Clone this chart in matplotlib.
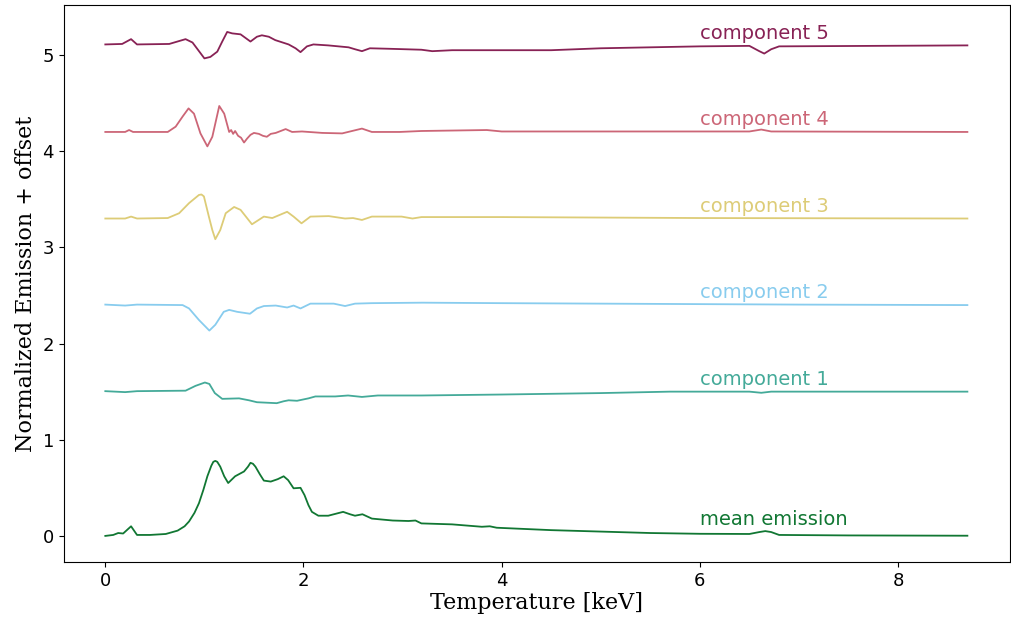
import matplotlib
matplotlib.use("Agg")
import matplotlib.pyplot as plt

# mean emission spectrum (no offset)
mean_x = [0.0, 0.08, 0.13, 0.18, 0.26, 0.32, 0.45, 0.61, 0.73, 0.80, 0.845, 0.90, 0.945,
          0.99, 1.03, 1.07, 1.09, 1.11, 1.13, 1.16, 1.20, 1.24, 1.31, 1.40, 1.44, 1.465,
          1.49, 1.515, 1.56, 1.60, 1.67, 1.74, 1.80, 1.845, 1.90, 1.97, 2.01, 2.05, 2.085,
          2.15, 2.25, 2.40, 2.47, 2.52, 2.595, 2.69, 2.9, 3.06, 3.13, 3.19, 3.5, 3.8,
          3.88, 3.95, 4.5, 5.0, 5.5, 6.0, 6.5, 6.6, 6.66, 6.72, 6.8, 7.5, 8.7]
mean_y = [0.0, 0.01, 0.03, 0.025, 0.10, 0.01, 0.01, 0.02, 0.055, 0.10, 0.15, 0.24, 0.34,
          0.48, 0.62, 0.73, 0.77, 0.78, 0.77, 0.72, 0.62, 0.55, 0.62, 0.67, 0.72, 0.76,
          0.75, 0.72, 0.64, 0.575, 0.565, 0.59, 0.62, 0.58, 0.495, 0.50, 0.425, 0.32, 0.25,
          0.21, 0.21, 0.25, 0.225, 0.21, 0.225, 0.18, 0.16, 0.155, 0.16, 0.13, 0.12, 0.095,
          0.10, 0.085, 0.06, 0.045, 0.03, 0.022, 0.02, 0.04, 0.05, 0.04, 0.01, 0.005, 0.002]

# components (values relative to their offset)
c1_x = [0.0, 0.2, 0.26, 0.32, 0.81, 0.91, 1.005, 1.05, 1.105, 1.18, 1.35, 1.45, 1.53,
        1.73, 1.80, 1.85, 1.935, 2.05, 2.12, 2.32, 2.45, 2.59, 2.75, 3.19, 4.0, 5.0,
        5.7, 6.5, 6.62, 6.72, 8.7]
c1_y = [0.005, -0.005, 0.0, 0.005, 0.01, 0.06, 0.095, 0.08, -0.015, -0.075, -0.07, -0.09,
        -0.11, -0.12, -0.10, -0.09, -0.095, -0.07, -0.05, -0.05, -0.04, -0.055, -0.04,
        -0.04, -0.03, -0.015, 0.0, 0.0, -0.012, 0.0, 0.0]

c2_x = [0.0, 0.2, 0.26, 0.32, 0.78, 0.845, 0.945, 1.05, 1.11, 1.195, 1.25, 1.33, 1.46,
        1.53, 1.60, 1.72, 1.835, 1.90, 1.97, 2.07, 2.305, 2.42, 2.52, 2.69, 3.2, 4.0,
        5.0, 6.0, 7.0, 8.7]
c2_y = [0.005, -0.005, 0.0, 0.005, 0.0, -0.035, -0.155, -0.265, -0.205, -0.07, -0.05,
        -0.07, -0.09, -0.035, -0.01, -0.005, -0.025, -0.005, -0.035, 0.015, 0.015, -0.01,
        0.015, 0.02, 0.025, 0.02, 0.015, 0.01, 0.005, 0.0]

c3_x = [0.0, 0.2, 0.26, 0.32, 0.63, 0.745, 0.845, 0.945, 0.97, 0.995, 1.045, 1.08, 1.11,
        1.16, 1.215, 1.30, 1.365, 1.48, 1.60, 1.685, 1.835, 1.90, 1.98, 2.07, 2.255,
        2.42, 2.5, 2.59, 2.69, 2.99, 3.1, 3.19, 4.0, 6.0, 8.7]
c3_y = [0.0, 0.0, 0.02, 0.0, 0.005, 0.055, 0.16, 0.245, 0.25, 0.23, 0.02, -0.12, -0.215,
        -0.12, 0.055, 0.12, 0.09, -0.06, 0.02, 0.005, 0.07, 0.02, -0.05, 0.02, 0.025,
        0.0, 0.005, -0.015, 0.02, 0.02, 0.0, 0.015, 0.015, 0.005, 0.0]

c4_x = [0.0, 0.2, 0.24, 0.28, 0.63, 0.71, 0.78, 0.84, 0.895, 0.96, 1.03, 1.08, 1.15,
        1.20, 1.25, 1.27, 1.29, 1.31, 1.34, 1.37, 1.40, 1.43, 1.465, 1.50, 1.55, 1.59,
        1.63, 1.67, 1.72, 1.82, 1.885, 1.985, 2.19, 2.39, 2.59, 2.69, 2.97, 3.19, 3.85,
        4.0, 6.5, 6.62, 6.72, 8.7]
c4_y = [0.0, 0.0, 0.02, 0.0, 0.0, 0.055, 0.16, 0.245, 0.19, -0.015, -0.15, -0.05, 0.27,
        0.19, 0.0, 0.02, -0.02, 0.01, -0.04, -0.06, -0.11, -0.07, -0.03, -0.01, -0.02,
        -0.04, -0.05, -0.02, -0.01, 0.03, 0.0, 0.005, -0.01, -0.015, 0.035, 0.0, 0.0,
        0.01, 0.02, 0.005, 0.005, 0.025, 0.005, 0.0]

c5_x = [0.0, 0.17, 0.26, 0.32, 0.645, 0.81, 0.88, 1.00, 1.06, 1.13, 1.18, 1.23, 1.28,
        1.365, 1.465, 1.53, 1.58, 1.65, 1.715, 1.85, 1.92, 1.97, 2.035, 2.10, 2.25,
        2.455, 2.52, 2.59, 2.67, 2.86, 3.19, 3.3, 3.5, 3.85, 4.5, 5.0, 6.0, 6.5, 6.6,
        6.65, 6.72, 6.8, 8.7]
c5_y = [0.01, 0.015, 0.065, 0.01, 0.015, 0.065, 0.03, -0.135, -0.12, -0.065, 0.04, 0.14,
        0.125, 0.115, 0.04, 0.09, 0.105, 0.09, 0.055, 0.01, -0.03, -0.07, -0.01, 0.01,
        0.0, -0.02, -0.04, -0.06, -0.03, -0.035, -0.045, -0.06, -0.05, -0.05, -0.05,
        -0.03, -0.01, -0.005, -0.06, -0.085, -0.04, -0.01, 0.0]

labels = ['mean emission', 'component 1', 'component 2', 'component 3', 'component 4', 'component 5']
offsets = [0.0, 1.5, 2.4, 3.3, 4.2, 5.1]
colors = ['#117733', '#44AA99', '#88CCEE', '#DDCC77', '#CC6677', '#882255']

curves = [(mean_x, mean_y), (c1_x, c1_y), (c2_x, c2_y), (c3_x, c3_y), (c4_x, c4_y), (c5_x, c5_y)]

fig, ax = plt.subplots(figsize=(10.11, 6.25), dpi=100)
fig.subplots_adjust(left=0.063, right=0.999, bottom=0.101, top=0.992)

for (xs, ys), off, lab, col in zip(curves, offsets, labels, colors):
    ax.plot(xs, [v + off for v in ys], color=col, lw=1.3)
    dy = 0.11 if off == 0 else 0.07
    ax.text(6, off + dy, lab, color=col, fontsize=14)

ax.set_xlim(-0.42, 9.13)
ax.set_ylim(-0.27, 5.52)
ax.tick_params(labelsize=13)
ax.set_xlabel('Temperature [keV]', family='DejaVu Serif', fontsize=16, labelpad=2)
ax.set_ylabel('Normalized Emission + offset', family='DejaVu Serif', fontsize=16)

plt.savefig('out.png', dpi=100)
